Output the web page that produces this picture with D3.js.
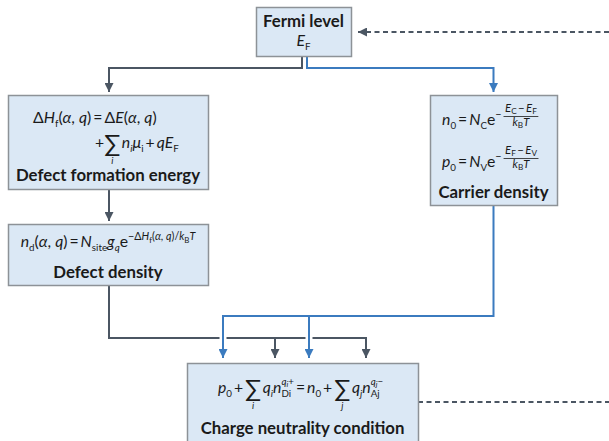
<!DOCTYPE html>
<html>
<head>
<meta charset="utf-8">
<script src="https://cdn.jsdelivr.net/npm/d3@7"></script>
<style>
	body { margin: 0; background: #fff; }
	text { white-space: pre; fill: #1a1a1a; font-family: Lato, "Noto Sans", "DejaVu Sans", sans-serif; }
</style>
</head>
<body>
<script>
// SVG size
var width = 609,
	height = 441;

// box titles (bold labels)
const titles = ["Fermi level", "Defect formation energy", "Carrier density", "Defect density", "Charge neutrality condition"];

// equation pieces: t = text, i = italic, s = style (sub / sup / supsub / sm / smsub)
const eqFermi = [{t:"E", i:1}, {t:"F", s:"sub"}];

const eqFormation1 = [{t:"Δ"}, {t:"H", i:1}, {t:"f", s:"sub"}, {t:"("}, {t:"α", i:1}, {t:", "}, {t:"q", i:1}, {t:")"},
	{t:"\u2009=\u2009"}, {t:"Δ"}, {t:"E", i:1}, {t:"("}, {t:"α", i:1}, {t:", "}, {t:"q", i:1}, {t:")"}];
const eqFormation2 = [{t:"+"}, {sum:"i"}, {t:"n", i:1}, {t:"i", i:1, s:"sub"}, {t:"μ", i:1}, {t:"i", s:"sub"},
	{t:"\u2009+\u2009"}, {t:"q", i:1}, {t:"E", i:1}, {t:"F", s:"sub"}];

const eqCarrierN = [{t:"n", i:1}, {t:"0", s:"sub"}, {t:"\u2009=\u2009"}, {t:"N", i:1}, {t:"C", s:"sub"}, {t:"e"}, {t:"−", s:"sup"}, {t:"\u2009"},
	{frac:[[{t:"E", i:1, s:"sm"}, {t:"C", s:"smsub"}, {t:"\u2009−\u2009", s:"sm"}, {t:"E", i:1, s:"sm"}, {t:"F", s:"smsub"}],
		[{t:"k", i:1, s:"sm"}, {t:"B", s:"smsub"}, {t:"T", i:1, s:"sm"}]]}];
const eqCarrierP = [{t:"p", i:1}, {t:"0", s:"sub"}, {t:"\u2009=\u2009"}, {t:"N", i:1}, {t:"V", s:"sub"}, {t:"e"}, {t:"−", s:"sup"}, {t:"\u2009"},
	{frac:[[{t:"E", i:1, s:"sm"}, {t:"F", s:"smsub"}, {t:"\u2009−\u2009", s:"sm"}, {t:"E", i:1, s:"sm"}, {t:"V", s:"smsub"}],
		[{t:"k", i:1, s:"sm"}, {t:"B", s:"smsub"}, {t:"T", i:1, s:"sm"}]]}];

const eqDensity = [{t:"n", i:1}, {t:"d", s:"sub"}, {t:"("}, {t:"α", i:1}, {t:", "}, {t:"q", i:1}, {t:")"}, {t:"\u2009=\u2009"},
	{t:"N", i:1}, {t:"site", s:"sub"}, {t:"g", i:1}, {t:"q", i:1, s:"sub"}, {t:"e"},
	{t:"−Δ", s:"sup"}, {t:"H", i:1, s:"sup"}, {t:"f", s:"supsub"}, {t:"(", s:"sup"}, {t:"α", i:1, s:"sup"}, {t:", ", s:"sup"},
	{t:"q", i:1, s:"sup"}, {t:")/", s:"sup"}, {t:"k", i:1, s:"sup"}, {t:"B", s:"supsub"}, {t:"T", i:1, s:"sup"}];

const eqNeutral = [{t:"p", i:1}, {t:"0", s:"sub"}, {t:"\u2009+\u2009"}, {sum:"i"}, {t:"q", i:1}, {t:"i", i:1, s:"sub"}, {t:"n", i:1},
	{ss:[[{t:"q", i:1, s:"hsup"}, {t:"i", i:1, s:"hsupsub"}, {t:"+", s:"hsup"}], [{t:"Di", s:"sub"}]]},
	{t:"\u2009=\u2009"}, {t:"n", i:1}, {t:"0", s:"sub"}, {t:"\u2009+\u2009"}, {sum:"j"}, {t:"q", i:1}, {t:"j", i:1, s:"sub"}, {t:"n", i:1},
	{ss:[[{t:"q", i:1, s:"hsup"}, {t:"j", i:1, s:"hsupsub"}, {t:"−", s:"hsup"}], [{t:"Aj", s:"sub"}]]}];

// layout of boxes
const boxes = [
	{x:256, y:7, w:95, h:49},
	{x:8, y:95, w:200, h:94},
	{x:430, y:95, w:127, h:110},
	{x:8, y:224, w:200, h:61},
	{x:187, y:363, w:231, h:90}
];

const dark = "#4b5663", blue = "#3b7bbf";
const base = 15.8;
const styles = {
	n: {f:1, dy:0},
	sub: {f:0.62, dy:4},
	sup: {f:0.68, dy:-7},
	supsub: {f:0.5, dy:-4},
	hsup: {f:0.62, dy:-8.5},
	hsupsub: {f:0.48, dy:-6},
	sm: {f:0.72, dy:0},
	smsub: {f:0.52, dy:2.2}
};

let svg = d3.select("body").append("svg")
	.attr("width", width)
	.attr("height", height);

// arrow heads
let defs = svg.append("defs");
[["ad", dark], ["ab", blue]].forEach(function(m){
	defs.append("marker")
		.attr("id", m[0])
		.attr("markerUnits", "userSpaceOnUse")
		.attr("viewBox", "0 0 10 10")
		.attr("refX", 10).attr("refY", 5)
		.attr("markerWidth", 9).attr("markerHeight", 9)
		.attr("orient", "auto")
		.append("path")
		.attr("d", "M0,0 L10,5 L0,10 z")
		.attr("fill", m[1]);
});

// draw one run of equation pieces, returns its width
function draw(g, segs, x, y) {
	let cx = x;
	segs.forEach(function(s){
		if (s.sum) {
			let t = g.append("text").attr("x", cx).attr("y", y + 3.5).attr("font-size", base * 1.5).text("∑");
			let w = t.node().getComputedTextLength();
			g.append("text").attr("x", cx + w / 2).attr("y", y + 16).attr("font-size", base * 0.6)
				.attr("font-style", "italic").attr("text-anchor", "middle").text(s.sum);
			cx += w + 1.5;
		} else if (s.frac) {
			let gn = g.append("g"), gd = g.append("g");
			let wn = draw(gn, s.frac[0], 0, 0);
			let wd = draw(gd, s.frac[1], 0, 0);
			let w = Math.max(wn, wd) + 3;
			gn.attr("transform", "translate(" + (cx + (w - wn) / 2) + "," + (y - 13.5) + ")");
			gd.attr("transform", "translate(" + (cx + (w - wd) / 2) + "," + (y + 1) + ")");
			g.append("line").attr("x1", cx).attr("x2", cx + w).attr("y1", y - 8.5).attr("y2", y - 8.5)
				.attr("stroke", "#1a1a1a").attr("stroke-width", 0.8);
			cx += w;
		} else if (s.ss) {
			let w1 = draw(g, s.ss[0], cx, y);
			let w2 = draw(g, s.ss[1], cx, y);
			cx += Math.max(w1, w2);
		} else {
			let st = styles[s.s || "n"];
			let t = g.append("text")
				.attr("x", cx)
				.attr("y", y + st.dy)
				.attr("font-size", base * st.f)
				.attr("font-style", s.i ? "italic" : "normal")
				.text(s.t);
			cx += t.node().getComputedTextLength();
		}
	});
	return cx - x;
}

function equation(segs, x, y, centered) {
	let g = svg.append("g");
	let w = draw(g, segs, 0, 0);
	let x0 = centered ? x - w / 2 : x;
	g.attr("transform", "translate(" + x0 + "," + y + ")");
}

// connectors
function path(d, color, arrow, dash) {
	svg.append("path")
		.attr("d", d)
		.attr("fill", "none")
		.attr("stroke", color)
		.attr("stroke-width", 2)
		.attr("stroke-dasharray", dash ? "5,3.5" : null)
		.attr("marker-end", arrow ? "url(#" + (color == blue ? "ab" : "ad") + ")" : null);
}

let fb = boxes[0], dfe = boxes[1], car = boxes[2], dd = boxes[3], cn = boxes[4];
let leftX = dfe.x + dfe.w / 2 + 1, rightX = car.x + car.w / 2;

path("M302," + (fb.y + fb.h) + "V68H" + leftX + "V" + (dfe.y - 3), dark, true);
path("M307," + (fb.y + fb.h) + "V68H" + rightX + "V" + (car.y - 3), blue, true);
path("M" + leftX + "," + (dfe.y + dfe.h) + "V" + (dd.y - 3), dark, true);
path("M" + leftX + "," + (dd.y + dd.h) + "V338H366V" + (cn.y - 5), dark, true);
path("M275,338V" + (cn.y - 5), dark, true);
// white gaps where blue crosses dark
[223, 309].forEach(function(x){
	svg.append("line").attr("x1", x).attr("x2", x).attr("y1", 332).attr("y2", 344)
		.attr("stroke", "#fff").attr("stroke-width", 7);
});
path("M" + rightX + "," + (car.y + car.h) + "V316H223V" + (cn.y - 5), blue, true);
path("M309,316V" + (cn.y - 5), blue, true);
path("M" + width + ",32H" + (fb.x + fb.w + 7), dark, true, true);
path("M" + (cn.x + cn.w) + ",402H" + width, dark, false, true);

// boxes
svg.selectAll("rect.box")
	.data(boxes)
	.enter()
	.append("rect")
	.attr("class", "box")
	.attr("x", d => d.x + 0.5)
	.attr("y", d => d.y + 0.5)
	.attr("width", d => d.w)
	.attr("height", d => d.h)
	.attr("fill", "#dbe8f5")
	.attr("stroke", "#8d9297")
	.attr("stroke-width", 1.5);

// titles
let titleY = [27, 181, 198, 278, 434];
svg.selectAll("text.title")
	.data(titles)
	.enter()
	.append("text")
	.attr("class", "title")
	.attr("x", (d, i) => boxes[i].x + boxes[i].w / 2)
	.attr("y", (d, i) => titleY[i])
	.attr("text-anchor", "middle")
	.attr("font-size", 16.8)
	.attr("font-weight", "bold")
	.text(d => d);

// equations
equation(eqFermi, fb.x + fb.w / 2, 46, true);
equation(eqFormation1, 33, 123, false);
equation(eqFormation2, 95, 148, false);
equation(eqCarrierN, 442, 125, false);
equation(eqCarrierP, 442, 167, false);
equation(eqDensity, dd.x + dd.w / 2, 247, true);
equation(eqNeutral, cn.x + cn.w / 2 - 2, 393, true);
</script>
</body>
</html>
